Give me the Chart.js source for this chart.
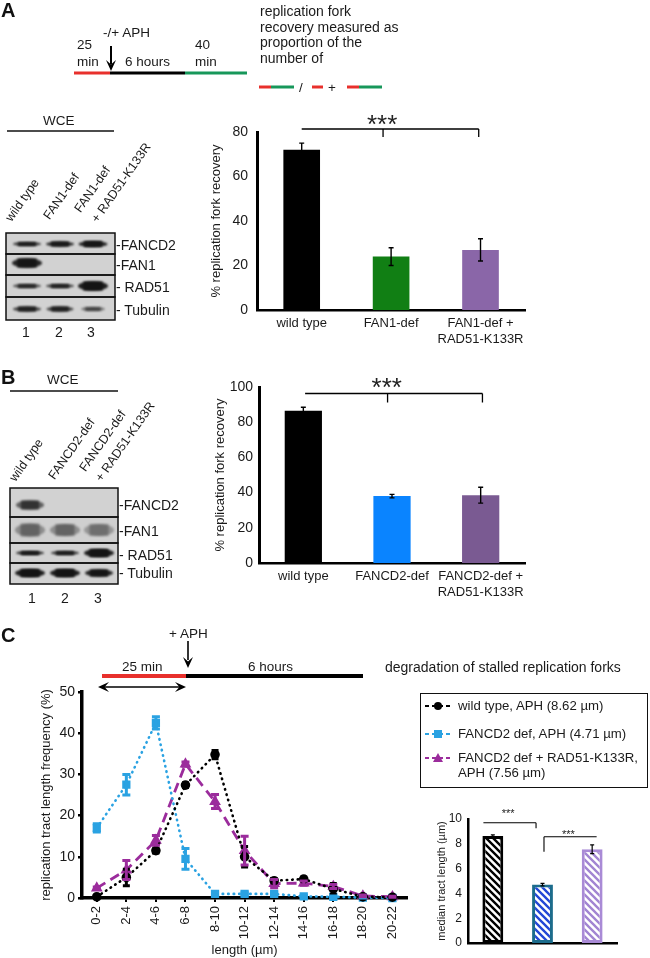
<!DOCTYPE html>
<html><head><meta charset="utf-8">
<script src="https://cdn.jsdelivr.net/npm/chart.js@4/dist/chart.umd.min.js"></script>
<style>
html,body{margin:0;padding:0;background:#fff;}
body{width:650px;height:958px;position:relative;overflow:hidden;font-family:"Liberation Sans",Arial,Helvetica,sans-serif;color:#1a1a1a;}
.t{position:absolute;white-space:nowrap;font-size:13.5px;line-height:13px;}
.b{position:absolute;white-space:nowrap;font-size:14px;line-height:14px;}
.p{position:absolute;font-weight:bold;font-size:20px;line-height:20px;color:#111;}
.r{position:absolute;white-space:nowrap;font-size:12.5px;line-height:13px;transform-origin:0 100%;transform:rotate(-55deg);}
canvas{position:absolute;}
#legC{position:absolute;left:420px;top:693px;width:226px;height:93px;border:1.5px solid #111;}
</style></head><body>
<canvas id="decor" width="650" height="958" style="left:0;top:0"></canvas>

<!-- Panel letters -->
<div class="p" style="left:1px;top:0px">A</div>
<div class="p" style="left:1px;top:367px">B</div>
<div class="p" style="left:1px;top:625px">C</div>

<!-- Panel A scheme -->
<div class="t" style="left:77px;top:38px">25</div>
<div class="t" style="left:77px;top:55px">min</div>
<div class="t" style="left:103px;top:26px">-/+ APH</div>
<div class="t" style="left:125px;top:55px">6 hours</div>
<div class="t" style="left:195px;top:38px">40</div>
<div class="t" style="left:195px;top:55px">min</div>
<div class="t" style="left:260px;top:4px;line-height:15.5px;font-size:14px">replication fork<br>recovery measured as<br>proportion of the<br>number of</div>
<div class="t" style="left:299px;top:81px">/</div>
<div class="t" style="left:328px;top:81px">+</div>

<!-- Blot A -->
<div class="t" style="left:43px;top:114px">WCE</div>
<div class="r" style="left:14px;top:211px">wild type</div>
<div class="r" style="left:52px;top:209px">FAN1-def</div>
<div class="r" style="left:83px;top:202px">FAN1-def</div>
<div class="r" style="left:100px;top:212px">+ RAD51-K133R</div>
<div class="b" style="left:116px;top:238px">-FANCD2</div>
<div class="b" style="left:116px;top:258px">-FAN1</div>
<div class="b" style="left:116px;top:280px">- RAD51</div>
<div class="b" style="left:116px;top:303px">- Tubulin</div>
<div class="b" style="left:22px;top:325px">1</div>
<div class="b" style="left:55px;top:325px">2</div>
<div class="b" style="left:87px;top:325px">3</div>

<!-- Blot B -->
<div class="t" style="left:47px;top:373px">WCE</div>
<div class="r" style="left:18px;top:471px">wild type</div>
<div class="r" style="left:57px;top:469px">FANCD2-def</div>
<div class="r" style="left:88px;top:461px">FANCD2-def</div>
<div class="r" style="left:104px;top:471px">+ RAD51-K133R</div>
<div class="b" style="left:119px;top:498px">-FANCD2</div>
<div class="b" style="left:119px;top:524px">-FAN1</div>
<div class="b" style="left:119px;top:548px">- RAD51</div>
<div class="b" style="left:119px;top:566px">- Tubulin</div>
<div class="b" style="left:28px;top:591px">1</div>
<div class="b" style="left:61px;top:591px">2</div>
<div class="b" style="left:94px;top:591px">3</div>

<!-- Panel C scheme -->
<div class="t" style="left:169px;top:627px">+ APH</div>
<div class="t" style="left:122px;top:660px">25 min</div>
<div class="t" style="left:248px;top:660px">6 hours</div>
<div class="t" style="left:385px;top:661px;font-size:14px">degradation of stalled replication forks</div>

<div id="legC"></div>
<div class="t" style="left:458px;top:699px;font-size:13.2px">wild type, APH (8.62 µm)</div>
<div class="t" style="left:458px;top:727px;font-size:13.2px">FANCD2 def, APH (4.71 µm)</div>
<div class="t" style="left:458px;top:751px;font-size:13.2px">FANCD2 def + RAD51-K133R,</div>
<div class="t" style="left:458px;top:766px;font-size:13.2px">APH (7.56 µm)</div>

<canvas id="chA" width="330" height="250" style="left:200px;top:110px"></canvas>
<canvas id="chB" width="330" height="253" style="left:200px;top:360px"></canvas>
<canvas id="chC" width="414" height="278" style="left:0px;top:680px"></canvas>
<canvas id="chD" width="210" height="158" style="left:420px;top:800px"></canvas>

<script>
// ================= DATA =================
const catsA = ['wild type', 'FAN1-def', ['FAN1-def +', 'RAD51-K133R']];
const recoveryA = [72, 24, 27];
const recoveryErrA = [3, 4, 5];
const ticksA = [0, 20, 40, 60, 80];

const catsB = ['wild type', 'FANCD2-def', ['FANCD2-def +', 'RAD51-K133R']];
const recoveryB = [86.5, 38, 38.5];
const recoveryErrB = [2, 1, 4.5];
const ticksB = [0, 20, 40, 60, 80, 100];

const lengthBins = ['0-2','2-4','4-6','6-8','8-10','10-12','12-14','14-16','16-18','18-20','20-22'];
const wtFreq       = [0.3, 5.0, 11.5, 27.4, 34.8, 10.0, 4.2, 4.6, 2.2, 0.3, 0.2];
const wtFreqErr    = [0.3, 2.0, 0.6, 0.6, 1.0, 2.5, 0.5, 0.5, 1.3, 0.2, 0.1];
const fd2Freq      = [17.0, 27.5, 42.5, 9.5, 1.0, 1.0, 1.0, 0.4, 0.3, 0.1, 0.0];
const fd2FreqErr   = [1.0, 2.5, 1.5, 2.5, 0.3, 0.3, 0.3, 0.2, 0.2, 0.1, 0.0];
const fd2RadFreq   = [2.4, 6.8, 14.0, 32.5, 23.4, 11.5, 3.5, 3.6, 2.8, 0.5, 0.3];
const fd2RadFreqErr= [0.3, 2.3, 1.2, 0.5, 1.7, 3.5, 1.0, 0.5, 0.5, 0.2, 0.1];
const ticksC = [0, 10, 20, 30, 40, 50];

const medianCats = ['wild type', 'FANCD2 def', 'FANCD2 def + RAD51-K133R'];
const medianLen = [8.62, 4.71, 7.56];
const medianErr = [0.1, 0.1, 0.35];
const ticksD = [0, 2, 4, 6, 8, 10];

// ================= SETUP =================
Chart.defaults.font.family = '"Liberation Sans", Arial, Helvetica, sans-serif';
Chart.defaults.color = '#1a1a1a';
Chart.defaults.animation = false;
Chart.defaults.plugins.legend.display = false;
Chart.defaults.plugins.tooltip.enabled = false;

const errorBars = {
  id: 'errorBars',
  afterDatasetsDraw(chart) {
    const ctx = chart.ctx, ys = chart.scales.y;
    chart.data.datasets.forEach((ds, di) => {
      if (!ds.errors) return;
      const meta = chart.getDatasetMeta(di);
      meta.data.forEach((el, i) => {
        const e = ds.errors[i];
        if (!e) return;
        const v = ds.data[i];
        const x = el.x, yt = ys.getPixelForValue(v + e), yb = ys.getPixelForValue(Math.max(v - e, 0));
        ctx.save();
        ctx.strokeStyle = ds.errColor || '#000';
        ctx.lineWidth = ds.errWidth || 1.3;
        ctx.beginPath();
        ctx.moveTo(x, yt); ctx.lineTo(x, yb);
        const c = ds.capW || 2;
        ctx.moveTo(x - c, yt); ctx.lineTo(x + c, yt);
        ctx.moveTo(x - c, yb); ctx.lineTo(x + c, yb);
        ctx.stroke();
        ctx.restore();
      });
    });
  }
};

const brackets = {
  id: 'brackets',
  afterDraw(chart, args, opts) {
    const items = opts.items || [];
    if (!items.length) return;
    const ctx = chart.ctx, xs = chart.scales.x, ys = chart.scales.y;
    ctx.save();
    ctx.strokeStyle = '#000';
    ctx.lineWidth = opts.lineWidth || 1.3;
    items.forEach(b => {
      const y = ys.getPixelForValue(b.y);
      ctx.beginPath();
      ctx.moveTo(xs.getPixelForValue(b.x0), y);
      ctx.lineTo(xs.getPixelForValue(b.x1), y);
      b.drops.forEach(d => {
        const x = xs.getPixelForValue(d.x);
        ctx.moveTo(x, y); ctx.lineTo(x, ys.getPixelForValue(d.y));
      });
      ctx.stroke();
      ctx.font = b.font;
      ctx.fillStyle = '#222';
      ctx.textAlign = 'center';
      ctx.textBaseline = 'alphabetic';
      ctx.fillText('***', xs.getPixelForValue(b.tx), ys.getPixelForValue(b.ty));
    });
    ctx.restore();
  }
};

function fixed(w) { return s => { s.width = w; }; }
function fixedH(h) { return s => { s.height = h; }; }

function barOptions(o) {
  return {
    responsive: false,
    layout: { padding: { top: o.padTop, right: o.padRight, left: 0, bottom: 0 } },
    plugins: { brackets: { items: o.brackets, lineWidth: o.brLW || 1.3 } },
    scales: {
      x: {
        grid: { display: false, drawTicks: false },
        border: { display: true, color: '#000', width: o.xBorder },
        ticks: { display: o.showX, font: { size: 13 }, color: '#1a1a1a', padding: 6, maxRotation: 0, autoSkip: false },
        afterFit: fixedH(o.xH)
      },
      y: {
        min: 0, max: o.max,
        afterBuildTicks: s => { s.ticks = o.ticks.map(v => ({ value: v })); },
        grid: { display: false, drawTicks: false },
        border: { display: true, color: '#000', width: o.yBorder },
        ticks: { font: { size: o.tickSize }, color: '#1a1a1a', padding: o.tickPad },
        title: { display: true, text: o.title, font: { size: o.titleSize }, color: '#1a1a1a', padding: { top: o.titlePad, bottom: 0 } },
        afterFit: fixed(o.yW)
      }
    }
  };
}

// ================= CHART A =================
new Chart(document.getElementById('chA'), {
  type: 'bar',
  data: {
    labels: catsA,
    datasets: [{
      data: recoveryA, errors: recoveryErrA, capW: 2.5, errWidth: 1.4,
      backgroundColor: ['#000000', '#117f14', '#8a66a8'],
      barPercentage: 0.41, categoryPercentage: 1
    }]
  },
  options: barOptions({
    padTop: 22, padRight: 3, xBorder: 2.5, yBorder: 3, showX: true, xH: 50, max: 80, ticks: ticksA,
    tickSize: 14, tickPad: 9, title: '% replication fork recovery', titleSize: 13, titlePad: 9, yW: 57,
    brackets: [{ x0: 0, x1: 1.98, y: 81.35, drops: [{ x: 0.91, y: 77.75 }, { x: 1.98, y: 77.75 }], tx: 0.9, ty: 79.6, font: '26px "Liberation Sans", Arial' }]
  }),
  plugins: [errorBars, brackets]
});

// ================= CHART B =================
new Chart(document.getElementById('chB'), {
  type: 'bar',
  data: {
    labels: catsB,
    datasets: [{
      data: recoveryB, errors: recoveryErrB, capW: 2.5, errWidth: 1.4,
      backgroundColor: ['#000000', '#0a84ff', '#7a5a92'],
      barPercentage: 0.42, categoryPercentage: 1
    }]
  },
  options: barOptions({
    padTop: 27, padRight: 2, xBorder: 2.5, yBorder: 3, showX: true, xH: 50, max: 100, ticks: ticksB,
    tickSize: 14, tickPad: 6, title: '% replication fork recovery', titleSize: 13, titlePad: 13, yW: 59,
    brackets: [{ x0: 0.02, x1: 2.02, y: 96.3, drops: [{ x: 0.95, y: 91.2 }, { x: 2.02, y: 91.2 }], tx: 0.94, ty: 95.0, font: '26px "Liberation Sans", Arial' }]
  }),
  plugins: [errorBars, brackets]
});

// ================= CHART C =================
new Chart(document.getElementById('chC'), {
  type: 'line',
  data: {
    labels: lengthBins,
    datasets: [
      { label: 'wild type, APH (8.62 µm)', data: wtFreq, errors: wtFreqErr, errColor: '#000', errWidth: 3, capW: 3.5,
        borderColor: '#000', borderWidth: 2.6, borderDash: [0.5, 5], borderCapStyle: 'round',
        pointStyle: 'circle', pointRadius: 3.5, pointBackgroundColor: '#000', pointBorderColor: '#000', tension: 0, clip: false },
      { label: 'FANCD2 def, APH (4.71 µm)', data: fd2Freq, errors: fd2FreqErr, errColor: '#2aa2e2', errWidth: 3, capW: 4,
        borderColor: '#2aa2e2', borderWidth: 2.6, borderDash: [0.5, 5], borderCapStyle: 'round',
        pointStyle: 'rect', pointRadius: 4, pointBackgroundColor: '#2aa2e2', pointBorderColor: '#2aa2e2', tension: 0, clip: false },
      { label: 'FANCD2 def + RAD51-K133R, APH (7.56 µm)', data: fd2RadFreq, errors: fd2RadFreqErr, errColor: '#9b2c9c', errWidth: 3, capW: 4,
        borderColor: '#9b2c9c', borderWidth: 2.8, borderDash: [10, 6],
        pointStyle: 'triangle', pointRadius: 4, pointBackgroundColor: '#9b2c9c', pointBorderColor: '#9b2c9c', tension: 0, clip: false }
    ]
  },
  options: {
    responsive: false,
    layout: { padding: { top: 12, right: 3, left: 0, bottom: 0 } },
    scales: {
      x: {
        offset: true,
        grid: { display: true, drawOnChartArea: false, color: '#000', lineWidth: 2, tickLength: 4 },
        border: { display: true, color: '#000', width: 3.5 },
        ticks: { font: { size: 13 }, color: '#1a1a1a', padding: 4, maxRotation: 90, minRotation: 90, autoSkip: false },
        title: { display: true, text: 'length (µm)', font: { size: 13 }, color: '#1a1a1a', padding: { top: 0, bottom: 0 } },
        afterFit: fixedH(60)
      },
      y: {
        min: 0, max: 50,
        afterBuildTicks: s => { s.ticks = ticksC.map(v => ({ value: v })); },
        grid: { display: true, drawOnChartArea: false, color: '#000', lineWidth: 2.5, tickLength: 4 },
        border: { display: true, color: '#000', width: 3.5 },
        ticks: { font: { size: 14 }, color: '#1a1a1a', padding: 3 },
        title: { display: true, text: 'replication tract length frequency (%)', font: { size: 13 }, color: '#1a1a1a', padding: { top: 39, bottom: 0 } },
        afterFit: fixed(82)
      }
    }
  },
  plugins: [errorBars]
});

// ================= CHART D (median) =================
function hatch(color) {
  const s = 7, c = document.createElement('canvas');
  c.width = s; c.height = s;
  const g = c.getContext('2d');
  g.fillStyle = '#fff'; g.fillRect(0, 0, s, s);
  g.strokeStyle = color; g.lineWidth = 2.4;
  g.beginPath();
  for (let k = -s; k <= s; k += s) { g.moveTo(k - 1, -1); g.lineTo(k + s + 1, s + 1); }
  g.stroke();
  return g.createPattern(c, 'repeat');
}
new Chart(document.getElementById('chD'), {
  type: 'bar',
  data: {
    labels: medianCats,
    datasets: [{
      data: medianLen, errors: medianErr, capW: 2, errWidth: 1.2,
      backgroundColor: [hatch('#000'), hatch('#2347d6'), hatch('#a285d2')],
      borderColor: ['#000', '#1c6c8c', '#a98ad6'], borderWidth: 3, borderSkipped: false,
      barPercentage: 0.42, categoryPercentage: 1
    }]
  },
  options: barOptions({
    padTop: 19, padRight: 13, xBorder: 2.5, yBorder: 2.5, showX: false, xH: 15, max: 10, ticks: ticksD,
    tickSize: 12, tickPad: 6, title: 'median tract length (µm)', titleSize: 11, titlePad: 15, yW: 48,
    brLW: 1.1,
    brackets: [
      { x0: -0.19, x1: 0.87, y: 9.70, drops: [{ x: 0.87, y: 9.25 }], tx: 0.31, ty: 10.2, font: '11px "Liberation Sans", Arial' },
      { x0: 1.03, x1: 2.09, y: 8.57, drops: [{ x: 1.03, y: 7.36 }], tx: 1.52, ty: 8.44, font: '11px "Liberation Sans", Arial' }
    ]
  }),
  plugins: [errorBars, brackets]
});

// ================= DECOR (schemes, blots, legend symbols) =================
const d = document.getElementById('decor').getContext('2d');
const RED = '#e8302c', GREEN = '#17975a';
function seg(x0, x1, y, col, w) { d.save(); d.strokeStyle = col; d.lineWidth = w; d.beginPath(); d.moveTo(x0, y); d.lineTo(x1, y); d.stroke(); d.restore(); }
function vline(x, y0, y1, w) { d.save(); d.strokeStyle = '#000'; d.lineWidth = w; d.beginPath(); d.moveTo(x, y0); d.lineTo(x, y1); d.stroke(); d.restore(); }
function headDown(x, y, w, h) { d.beginPath(); d.moveTo(x, y); d.lineTo(x - w / 2, y - h); d.lineTo(x, y - h * 0.6); d.lineTo(x + w / 2, y - h); d.closePath(); d.fillStyle = '#000'; d.fill(); }
function headH(x, y, dir, w, h) { d.beginPath(); d.moveTo(x, y); d.lineTo(x - dir * h, y - w / 2); d.lineTo(x - dir * h * 0.6, y); d.lineTo(x - dir * h, y + w / 2); d.closePath(); d.fillStyle = '#000'; d.fill(); }

// Panel A scheme
seg(74, 110, 73, RED, 3);
seg(110, 185, 73, '#000', 3);
seg(185, 247, 73, GREEN, 3);
vline(111, 46, 64, 2);
headDown(111, 71, 10, 11);
seg(259, 271, 87, RED, 3); seg(271, 294, 87, GREEN, 3);
seg(312, 323, 87, RED, 3);
seg(347, 359, 87, RED, 3); seg(359, 382, 87, GREEN, 3);

// WCE lines
seg(7, 114, 131, '#111', 1.5);
seg(10, 118, 391, '#111', 1.5);

// Blots
function band(cx, cy, w, h, a) {
  d.save();
  d.filter = 'blur(1.3px)';
  d.fillStyle = 'rgba(20,20,20,' + a + ')';
  d.beginPath();
  d.ellipse(cx, cy, w / 2, h / 2, 0, 0, Math.PI * 2);
  d.fill();
  d.fillRect(cx - w * 0.32, cy - h / 2, w * 0.64, h);
  d.restore();
}
function blot(x0, x1, rows, lanes) {
  rows.forEach(r => {
    d.fillStyle = r.bg || '#d2d2d2';
    d.fillRect(x0, r.y0, x1 - x0, r.y1 - r.y0);
    r.bands.forEach((b, i) => { if (b) band(lanes[i], r.c, b[0], b[1], b[2]); });
  });
  d.save(); d.strokeStyle = '#111'; d.lineWidth = 1.5;
  rows.forEach(r => d.strokeRect(x0, r.y0, x1 - x0, r.y1 - r.y0));
  d.restore();
}
blot(6, 115, [
  { y0: 233, y1: 254, c: 244, bands: [[28, 4, 0.8], [28, 5, 0.85], [29, 6, 0.9]] },
  { y0: 254, y1: 275, c: 263, bands: [[30, 9, 0.9], null, null] },
  { y0: 275, y1: 297, c: 286, bands: [[28, 4, 0.7], [28, 4, 0.75], [30, 9, 0.95]] },
  { y0: 297, y1: 320, c: 309, bands: [[28, 5, 0.75], [27, 5, 0.75], [24, 4, 0.5]] }
], [27, 60, 93]);
blot(10, 118, [
  { y0: 488, y1: 517, c: 505, bands: [[28, 9, 0.6], null, null] },
  { y0: 517, y1: 543, c: 530, bg: '#cfcfcf', bands: [[30, 13, 0.35], [30, 12, 0.35], [30, 12, 0.3]] },
  { y0: 543, y1: 563, c: 553, bands: [[28, 4, 0.85], [28, 4, 0.8], [30, 8, 0.95]] },
  { y0: 563, y1: 584, c: 573, bands: [[30, 8, 0.95], [30, 8, 0.95], [28, 7, 0.9]] }
], [30, 65, 99]);

// Panel C scheme
vline(188, 641, 660, 1.6);
headDown(188, 668, 10, 11);
seg(102, 186, 676, RED, 4);
seg(186, 363, 676, '#000', 4);
seg(104, 180, 687, '#000', 1.5);
headH(98, 687, -1, 10, 11);
headH(186, 687, 1, 10, 11);

// Legend symbols for C
function legLine(y, col, dash, w) { d.save(); d.strokeStyle = col; d.lineWidth = w; d.setLineDash(dash); d.beginPath(); d.moveTo(425, y); d.lineTo(452, y); d.stroke(); d.restore(); }
legLine(706, '#000', [4, 3], 2);
d.fillStyle = '#000'; d.beginPath(); d.arc(438, 706, 4, 0, Math.PI * 2); d.fill();
legLine(734, '#2aa2e2', [4, 3], 2);
d.fillStyle = '#2aa2e2'; d.fillRect(434, 730, 8, 8);
legLine(758, '#9b2c9c', [4, 3], 2);
d.fillStyle = '#9b2c9c'; d.beginPath(); d.moveTo(438, 753); d.lineTo(443, 762); d.lineTo(433, 762); d.closePath(); d.fill();
</script>
</body></html>
